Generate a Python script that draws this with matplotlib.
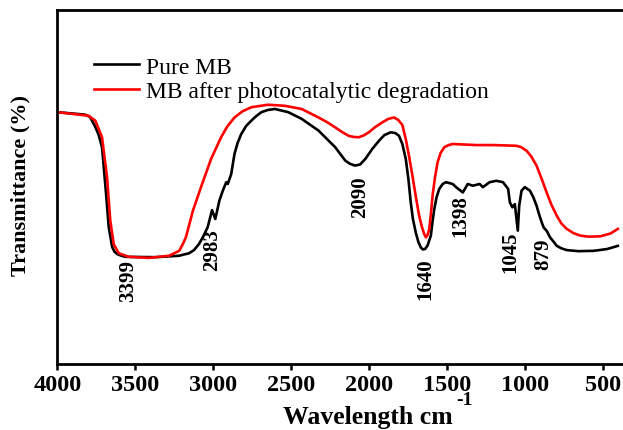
import matplotlib
matplotlib.use("Agg")
import matplotlib.pyplot as plt

plt.rcParams['font.family'] = ['Liberation Serif', 'DejaVu Serif']

# ---- data (wavenumber cm-1, transmittance arbitrary %) ----
pure_wn = [4000, 3821, 3789, 3756, 3734, 3713, 3687, 3670, 3648, 3634, 3616, 3595,
           3563, 3369, 3220, 3155, 3123, 3091, 3062, 3035, 3007, 2986, 2960, 2938,
           2916, 2906, 2884, 2863, 2843, 2820, 2788, 2755, 2726, 2690, 2651, 2604,
           2518, 2432, 2324, 2217, 2152, 2122, 2090, 2057, 2023, 1979, 1936, 1902,
           1861, 1831, 1807, 1786, 1764, 1747, 1732, 1718, 1700, 1683, 1668, 1655,
           1640, 1624, 1603, 1592, 1581, 1566, 1549, 1527, 1506, 1463, 1441, 1398,
           1366, 1334, 1290, 1269, 1226, 1183, 1140, 1107, 1096, 1080, 1064, 1045,
           1036, 1021, 1000, 967, 946, 925, 907, 892, 879, 859, 838, 814, 795, 765,
           731, 655, 558, 472, 403]
pure_t = [71.2, 70.5, 69.8, 67.0, 64.7, 61.3, 48.1, 38.7, 33.1, 31.8, 31.1, 30.7,
          30.3, 30.2, 30.6, 31.3, 32.2, 33.9, 36.2, 38.7, 43.5, 41.0, 46.2, 49.0,
          51.4, 50.9, 53.7, 59.4, 62.5, 65.0, 67.3, 68.8, 70.0, 71.2, 71.8, 72.1,
          71.2, 69.3, 66.0, 61.3, 57.5, 56.6, 56.1, 56.4, 58.0, 60.8, 63.1, 64.7,
          65.5, 65.3, 64.5, 62.2, 58.0, 52.3, 45.7, 41.0, 37.2, 34.5, 33.0, 32.4,
          32.5, 33.5, 36.3, 40.4, 43.8, 47.2, 49.5, 50.9, 51.4, 50.9, 50.0, 48.5,
          50.9, 50.4, 50.9, 50.0, 51.4, 51.8, 51.4, 49.5, 45.7, 44.3, 45.2, 37.7,
          44.8, 49.0, 50.0, 49.0, 47.2, 44.8, 42.1, 40.1, 38.6, 37.6, 35.8, 34.5,
          33.4, 32.7, 32.2, 31.9, 32.0, 32.5, 33.4]

deg_wn = [4000, 3800, 3756, 3713, 3681, 3660, 3638, 3606, 3541, 3412, 3283, 3218,
          3198, 3175, 3130, 3078, 3013, 2949, 2910, 2863, 2813, 2755, 2647, 2540,
          2432, 2324, 2270, 2217, 2173, 2130, 2099, 2066, 2035, 2001, 1960, 1915,
          1876, 1839, 1812, 1786, 1764, 1743, 1721, 1699, 1678, 1660, 1646, 1635,
          1624, 1613, 1602, 1592, 1576, 1560, 1540, 1516, 1489, 1463, 1312, 1204,
          1054, 1023, 989, 959, 925, 894, 860, 830, 795, 765, 731, 688, 644, 591,
          515, 450, 403]
deg_t = [71.2, 70.2, 68.8, 64.1, 52.9, 40.5, 33.9, 31.3, 30.3, 30.0, 30.6, 32.0,
         33.6, 35.8, 43.3, 50.0, 58.0, 64.1, 67.1, 69.7, 71.4, 72.6, 73.3, 73.0,
         72.1, 69.7, 68.4, 66.9, 65.6, 64.5, 64.2, 64.1, 64.6, 65.5, 67.0, 68.3,
         69.3, 69.7, 69.0, 67.6, 63.6, 58.8, 53.2, 47.2, 41.9, 38.7, 36.8, 35.8,
         36.5, 38.2, 42.7, 47.6, 52.9, 57.0, 59.7, 61.3, 61.9, 62.2, 61.9, 61.9,
         61.7, 61.3, 60.3, 58.7, 56.1, 52.6, 48.5, 45.1, 41.9, 39.7, 38.2, 37.0, 36.3,
         36.0, 36.1, 36.9, 38.2]

peak_labels = ["3399", "2983", "2090", "1640", "1398", "1045", "879"]
peak_label_wn = [3543, 3006, 2056, 1637, 1411, 1094, 881]
peak_label_t = [23.8, 32.5, 47.5, 24.3, 42.2, 32.0, 31.4]

xtick_vals = [4000, 3500, 3000, 2500, 2000, 1500, 1000, 500]
series_names = ["Pure MB", "MB after photocatalytic degradation"]

# ---- figure ----
W, H = 623, 431
fig = plt.figure(figsize=(W / 100, H / 100), dpi=100)
ax = fig.add_axes([57.3 / W, 1 - 365 / H, 1 - 57.3 / W + 0.01, (365 - 11.3) / H])

ax.plot(pure_wn, pure_t, color='black', lw=1.9, label=series_names[0],
        solid_joinstyle='round')
ax.plot(deg_wn, deg_t, color='#ff0000', lw=1.9, label=series_names[1],
        solid_joinstyle='round')

ax.set_xlim(4000, 330)
ax.set_ylim(0, 100)
ax.set_xticks(xtick_vals)
ax.set_xticklabels([str(v) for v in xtick_vals], fontsize=17.5, fontweight='bold')
ax.set_yticks([])
ax.tick_params(axis='x', direction='out', length=4.5, width=1.8, pad=3.0)
for s in ['left', 'top', 'bottom']:
    ax.spines[s].set_linewidth(2.0)
ax.spines['right'].set_visible(False)

for lab, wn, t in zip(peak_labels, peak_label_wn, peak_label_t):
    ax.text(wn, t, lab, rotation=90, ha='center', va='center',
            fontsize=15, fontweight='bold')

# x label (cropped-figure centring) with superscript
fig.text(453 / W, 1 - 424 / H, 'Wavelength cm', ha='right', va='baseline',
         fontsize=18.5, fontweight='bold')
fig.text(456 / W, 1 - 405 / H, '-1', ha='left', va='baseline',
         fontsize=14, fontweight='bold')

fig.text(20 / W, 1 - 185 / H, 'Transmittance (%)', rotation=90, ha='center',
         va='center', fontsize=16, fontweight='bold')

ax.legend(loc='upper left', bbox_to_anchor=(94 / W, 1 - 57 / H),
          bbox_transform=fig.transFigure, frameon=False, fontsize=17,
          handlelength=1.9, handletextpad=0.3, labelspacing=0.14, borderpad=0,
          borderaxespad=0)

fig.savefig('out.png', dpi=100)
